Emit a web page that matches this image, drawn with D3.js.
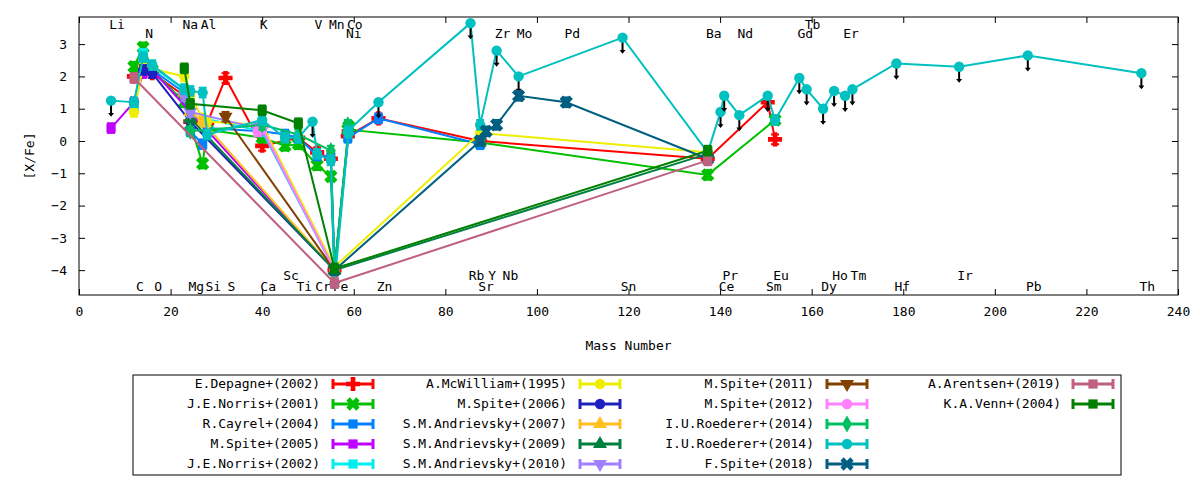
<!DOCTYPE html>
<html><head><meta charset="utf-8">
<script src="https://cdn.jsdelivr.net/npm/d3@7"></script>
<style>body{margin:0;background:#fff}svg text{font-family:"DejaVu Sans Mono",monospace;font-size:13px;fill:#000}</style>
</head><body><svg id="c" width="1200" height="480"></svg>
<script>
const massOf={Li:7,C:12,N:14,O:16,Na:23,Mg:24.3,Al:27,Si:28,S:32,K:39,Ca:40,Sc:45,Ti:47.9,V:51,Cr:52,Mn:55,Fe:55.8,Co:58.9,Ni:58.7,Zn:65.4,Rb:85.5,Sr:87.6,Y:88.9,Zr:91.2,Nb:92.9,Mo:96,Pd:106.4,Sn:118.7,Ba:137.3,Ce:140.1,Pr:140.9,Nd:144.2,Sm:150.4,Eu:152,Gd:157.3,Tb:158.9,Dy:162.5,Ho:164.9,Er:167.3,Tm:168.9,Hf:178.5,Ir:192.2,Pb:207.2,Th:232};
const labelsTop=["Li","Na","Al","K","V","Mn","Co","Tb"];
const labelsTop2=["N","Ni","Zr","Mo","Pd","Ba","Nd","Gd","Er"];
const labelsBot1=["Sc","Rb","Y","Nb","Pr","Eu","Ho","Tm","Ir"];
const labelsBot2=["C","O","Mg","Si","S","Ca","Ti","Cr","Fe","Zn","Sr","Sn","Ce","Sm","Dy","Hf","Pb","Th"];
const xTicks=[0,20,40,60,80,100,120,140,160,180,200,220,240];
const yTicks=[-4,-3,-2,-1,0,1,2,3];
const seriesNames=["E.Depagne+(2002)","J.E.Norris+(2001)","R.Cayrel+(2004)","M.Spite+(2005)","J.E.Norris+(2002)","A.McWilliam+(1995)","M.Spite+(2006)","S.M.Andrievsky+(2007)","S.M.Andrievsky+(2009)","S.M.Andrievsky+(2010)","M.Spite+(2011)","M.Spite+(2012)","I.U.Roederer+(2014)","I.U.Roederer+(2014)","F.Spite+(2018)","A.Arentsen+(2019)","K.A.Venn+(2004)"];
const seriesColors=["#ff0000","#00c000","#0080ff","#c000ff","#00eeee","#eeee00","#2020c0","#ffc020","#008040","#a080ff","#804000","#ff80ff","#00c060","#00c0c0","#005f80","#c06080","#008000"];
const seriesMarks=["plus","x","square","square","square","circle","circle","tri","tri","tridown","tridown","circle","diamond","circle","x","square","square"];
const depagne=[["C",2.0],["N",2.3],["O",2.1],["Na",1.4],["Mg",0.6],["Si",0.55],["S",1.95],["Ca",-0.15],["Ti",0.1],["Cr",-0.35],["Mn",-0.55],["Fe",-4.0],["Co",0.3],["Ni",0.15],["Zn",0.7],["Sr",0.0],["Ba",-0.55],["Sm",1.2],["Eu",0.05]];
const norris01=[["C",2.3],["N",2.9],["O",2.2],["Na",1.2],["Mg",0.5],["Al",-0.7],["Si",0.35],["Ca",0.1],["Sc",-0.15],["Ti",-0.1],["Cr",-0.75],["Mn",-1.1],["Fe",-4.0],["Co",0.45],["Ni",0.35],["Sr",-0.05],["Ba",-1.05],["Eu",0.65]];
const cayrel=[["C",1.0],["N",2.6],["O",2.2],["Na",1.5],["Mg",0.3],["Al",-0.1],["Si",0.4],["Ca",0.3],["Sc",0.2],["Ti",0.1],["Cr",-0.45],["Mn",-0.5],["Fe",-4.0],["Co",0.3],["Ni",0.1],["Zn",0.7],["Sr",-0.1]];
const spite05=[["Li",0.4],["C",1.2],["N",2.1],["O",2.2],["Fe",-4.0]];
const norris02=[["C",1.1],["N",2.7],["O",2.3],["Na",1.6],["Mg",0.8],["Ca",0.3],["Fe",-4.0]];
const mcwilliam=[["C",0.9],["N",2.3],["Na",2.0],["Mg",1.4],["Al",0.7],["Si",0.6],["Ca",0.5],["Fe",-3.9],["Sr",0.25],["Ba",-0.35]];
const spite06=[["N",2.2],["O",2.1],["Mg",0.6],["Fe",-4.0]];
const andri07=[["Na",1.5],["Mg",0.9],["Al",0.6],["Fe",-4.0]];
const andri09=[["Mg",0.7],["Fe",-4.0],["Ba",-0.4]];
const andri10=[["Na",1.4],["Mg",0.9],["K",0.4],["Ca",0.35],["Fe",-4.0]];
const spite11=[["S",0.75],["Fe",-4.0]];
const spite12=[["K",0.3],["Ca",0.4],["Fe",-4.0]];
const roederer1=[["Mg",0.3],["Ca",0.5],["Ti",0.2],["Mn",-0.3],["Fe",-4.0],["Co",0.4],["Ni",0.5]];
const roederer2=[["Li",1.25,1],["C",1.2],["N",2.6],["O",2.35],["Na",1.6],["Mg",1.55],["Al",1.5],["Si",0.2],["Ca",0.65],["Sc",0.1],["Ti",0.1],["V",0.6,1],["Cr",-0.4],["Mn",-0.6],["Fe",-4.4],["Co",0.25],["Ni",0.3],["Zn",1.2,1],["Rb",3.65,1],["Sr",0.5],["Zr",2.8,1],["Mo",2.0,1],["Sn",3.2,1],["Ba",-0.35],["Ce",0.9,1],["Pr",1.4,1],["Nd",0.8,1],["Sm",1.4,1],["Eu",0.65],["Gd",1.95,1],["Tb",1.6,1],["Dy",1.0,1],["Ho",1.55,1],["Er",1.4,1],["Tm",1.6,1],["Hf",2.4,1],["Ir",2.3,1],["Pb",2.65,1],["Th",2.1,1]];
const fspite18=[["Fe",-4.0],["Sr",0.0],["Y",0.3],["Zr",0.5],["Mo",1.4],["Pd",1.2],["Ba",-0.55]];
const arentsen=[["C",1.95],["Fe",-4.4],["Ba",-0.6]];
const venn=[["Na",2.25],["Mg",1.15],["Ca",0.95],["Ti",0.55],["Fe",-3.95],["Ba",-0.3]];
const seriesData=[depagne,norris01,cayrel,spite05,norris02,mcwilliam,spite06,andri07,andri09,andri10,spite11,spite12,roederer1,roederer2,fspite18,arentsen,venn];

const svg=d3.select("#c");
const L=79,R=1178,T=17,B=295;
const x=d3.scaleLinear().domain([0,240]).range([L,R]);
const y=d3.scaleLinear().domain([-4.77,3.84]).range([B,T]);
const g=svg.append("g");
g.append("g").attr("transform",`translate(0,${B})`).call(d3.axisBottom(x).tickValues(xTicks).tickSize(-6).tickPadding(12)).call(a=>{a.select(".domain").remove();a.selectAll("text").attr("font-size",13).attr("font-family","DejaVu Sans Mono");});
g.append("g").attr("transform",`translate(0,${T})`).call(d3.axisTop(x).tickValues(xTicks).tickSize(-6).tickFormat("")).call(a=>a.select(".domain").remove());
g.append("g").attr("transform",`translate(${L},0)`).call(d3.axisLeft(y).tickValues(yTicks).tickSize(-6).tickPadding(12)).call(a=>{a.select(".domain").remove();a.selectAll("text").attr("font-size",13).attr("font-family","DejaVu Sans Mono");});
g.append("g").attr("transform",`translate(${R},0)`).call(d3.axisRight(y).tickValues(yTicks).tickSize(-6).tickFormat("")).call(a=>a.select(".domain").remove());
g.append("rect").attr("x",L).attr("y",T).attr("width",R-L).attr("height",B-T).attr("fill","none").attr("stroke","#000");
svg.append("text").attr("x",(L+R)/2).attr("y",350).attr("text-anchor","middle").text("Mass Number");
svg.append("text").attr("transform","translate(34,156) rotate(-90)").attr("text-anchor","middle").text("[X/Fe]");

const rows=[[labelsTop,29],[labelsTop2,38],[labelsBot1,280],[labelsBot2,291]];
rows.forEach(([arr,yy])=>arr.forEach(e=>svg.append("text").attr("x",x(massOf[e])+6).attr("y",yy).attr("text-anchor","middle").text(e)));

function sym(type){
  const m={plus:d3.symbolCross,x:d3.symbolCross,square:d3.symbolSquare,circle:d3.symbolCircle,tri:d3.symbolTriangle,tridown:d3.symbolTriangle,diamond:d3.symbolDiamond}[type];
  return d3.symbol().type(m).size(type==="plus"||type==="x"?110:85)();
}
function rot(type){return type==="x"?45:type==="tridown"?180:0;}
const line=d3.line().x(d=>x(massOf[d[0]])).y(d=>y(d[1]));
const err=0.15;
seriesData.forEach((data,i)=>{
  const c=seriesColors[i],s=seriesMarks[i];
  const sg=svg.append("g");
  sg.append("path").datum(data).attr("d",line).attr("fill","none").attr("stroke",c).attr("stroke-width",2);
  data.forEach(d=>{
    const px=x(massOf[d[0]]),py=y(d[1]);
    if(d[2]){
      sg.append("line").attr("x1",px).attr("x2",px).attr("y1",py).attr("y2",y(d[1]-0.45)).attr("stroke","#000").attr("stroke-width",2);
      sg.append("path").attr("d",`M${px-3},${y(d[1]-0.38)}L${px+3},${y(d[1]-0.38)}L${px},${y(d[1]-0.5)}Z`).attr("fill","#000");
    } else {
      sg.append("line").attr("x1",px).attr("x2",px).attr("y1",y(d[1]-err)).attr("y2",y(d[1]+err)).attr("stroke",c).attr("stroke-width",2);
      [d[1]-err,d[1]+err].forEach(v=>sg.append("line").attr("x1",px-4).attr("x2",px+4).attr("y1",y(v)).attr("y2",y(v)).attr("stroke",c).attr("stroke-width",2));
    }
    sg.append("path").attr("d",sym(s)).attr("transform",`translate(${px},${py}) rotate(${rot(s)})`).attr("fill",c);
  });
});

svg.append("rect").attr("x",133).attr("y",375).attr("width",988).attr("height",100).attr("fill","#fff").attr("stroke","#000");
const colText=[320,567,814,1061],colSample=[333,580,827,1073];
seriesNames.forEach((n,i)=>{
  const col=Math.floor(i/5),row=i%5,yy=384+row*20;
  svg.append("text").attr("x",colText[col]).attr("y",yy+4).attr("text-anchor","end").text(n);
  const c=seriesColors[i],x0=colSample[col],x1=x0+40;
  svg.append("line").attr("x1",x0).attr("x2",x1).attr("y1",yy).attr("y2",yy).attr("stroke",c).attr("stroke-width",3);
  [x0,x1].forEach(xx=>svg.append("line").attr("x1",xx).attr("x2",xx).attr("y1",yy-5).attr("y2",yy+5).attr("stroke",c).attr("stroke-width",3));
  svg.append("path").attr("d",sym(seriesMarks[i])).attr("transform",`translate(${x0+20},${yy}) rotate(${rot(seriesMarks[i])})`).attr("fill",c);
});
</script></body></html>
